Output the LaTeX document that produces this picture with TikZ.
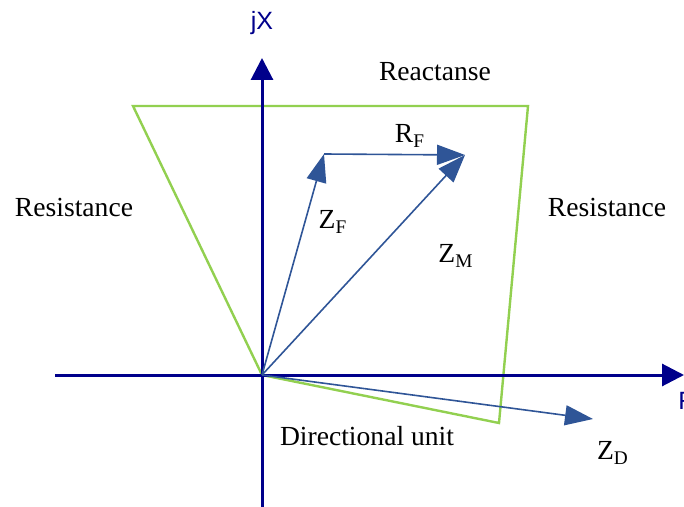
\documentclass[tikz,border=0pt]{standalone}
\usepackage{fontspec}
\setmainfont{Liberation Serif}
\newfontfamily\axisfont{Liberation Sans}
\usetikzlibrary{arrows.meta, positioning}

\definecolor{axisblue}{RGB}{0, 0, 139}
\definecolor{vecblue}{RGB}{47, 85, 151}
\definecolor{zonegreen}{RGB}{146, 208, 80}

\tikzset{
    axisline/.style={draw=axisblue, line width=1.5pt, -{Triangle[length=11pt, width=11pt]}},
    vecline/.style={draw=vecblue, line width=0.8pt, -{Triangle[length=14pt, width=10pt]}},
    zoneline/.style={draw=zonegreen, line width=1.2pt, line join=miter},
    txt/.style={font=\fontsize{13.8}{16}\selectfont, inner sep=1pt},
    axislabel/.style={font=\axisfont\fontsize{12.5}{14}\selectfont, text=axisblue, inner sep=1pt}
}

\begin{document}
\begin{tikzpicture}[x=0.5pt, y=-0.5pt]
    \useasboundingbox (0,0) rectangle (684,507);

    % 1. Các điểm chính
    \coordinate (O) at (262, 375);
    \coordinate (xL) at (55, 375);
    \coordinate (xR) at (684, 375);
    \coordinate (yB) at (262, 507);
    \coordinate (yT) at (262, 58);
    \coordinate (TL) at (133, 106);
    \coordinate (TR) at (528, 106);
    \coordinate (BR) at (499, 423);
    \coordinate (F) at (324, 154);
    \coordinate (M) at (465, 155);
    \coordinate (D) at (593, 419);

    % 2. Vùng tác động (màu xanh lá)
    \draw[zoneline] (O) -- (TL) -- (TR) -- (BR) -- cycle;

    % 3. Trục tọa độ
    \draw[axisline] (xL) -- (xR);
    \draw[axisline] (yB) -- (yT);

    % 4. Các vector
    \draw[vecline] (O) -- (F);
    \draw[vecline] (F) -- (M);
    \draw[vecline] (O) -- (M);
    \draw[vecline] (O) -- (D);

    % Nhãn text
    \node[axislabel] (jX) at (262, 23) {jX};
    \node[axislabel, anchor=west] (R) at (676, 401) {R};
    \node[txt] (reac) at (435, 72) {Reactanse};
    \node[txt] (resL) at (74, 207) {Resistance};
    \node[txt] (resR) at (607, 207) {Resistance};
    \node[txt] (RF) at (410, 136) {R\textsubscript{F}};
    \node[txt] (ZF) at (333, 222) {Z\textsubscript{F}};
    \node[txt] (ZM) at (456, 256) {Z\textsubscript{M}};
    \node[txt] (dir) at (367, 436) {Directional unit};
    \node[txt] (ZD) at (613, 453) {Z\textsubscript{D}};
\end{tikzpicture}
\end{document}
